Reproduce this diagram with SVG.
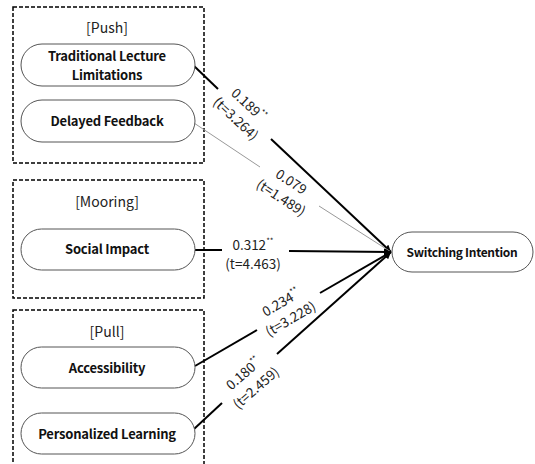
<svg xmlns="http://www.w3.org/2000/svg" width="535" height="464" viewBox="0 0 535 464">
<defs>
<style>
.grp{fill:none;stroke:#000;stroke-width:1.5;stroke-dasharray:4,2}
.pill{fill:#fff;stroke:#555;stroke-width:1}
.nt{font-family:"Noto Sans CJK KR","Noto Sans",sans-serif;font-size:13px;font-weight:bold;letter-spacing:-0.2px;fill:#111;text-anchor:middle}
.st{font-size:12px;letter-spacing:-0.3px}
.gt{font-family:"Noto Sans CJK KR","Noto Sans",sans-serif;font-size:14px;fill:#222;text-anchor:middle}
.lb{font-family:"Noto Sans CJK KR","Noto Sans",sans-serif;font-size:13.5px;fill:#222;text-anchor:middle}
.sup{font-size:8px}
.ln{fill:none;stroke:#000;stroke-width:2}
.lg{fill:none;stroke:#999;stroke-width:1}
</style>
<marker id="arr" viewBox="0 0 10 10" refX="10" refY="5" markerWidth="7" markerHeight="7" markerUnits="userSpaceOnUse" orient="auto">
<path d="M0,0 L10,5 L0,10 z" fill="#000"/>
</marker>
</defs>
<rect width="535" height="464" fill="#fff"/>

<g id="group-push">
<rect class="grp" x="13" y="7" width="191" height="156"/>
<text class="gt" x="107" y="33">[Push]</text>
</g>
<g id="group-mooring">
<rect class="grp" x="13" y="180" width="191" height="118"/>
<text class="gt" x="107" y="207">[Mooring]</text>
</g>
<g id="group-pull">
<rect class="grp" x="13" y="310" width="191" height="170"/>
<text class="gt" x="107" y="337">[Pull]</text>
</g>

<g id="connectors">
<polyline class="ln" points="193,65 218,89"/>
<polyline class="ln" points="271,139 391,252" marker-end="url(#arr)"/>
<polyline class="lg" points="194,123 260,167"/>
<polyline class="lg" points="319,206 391,252"/>
<polyline class="ln" points="195,250 222,250"/>
<polyline class="ln" points="289,251 391,252" marker-end="url(#arr)"/>
<polyline class="ln" points="195,366 257,330"/>
<polyline class="ln" points="320,293 391,252" marker-end="url(#arr)"/>
<polyline class="ln" points="194,429 222,403"/>
<polyline class="ln" points="277,354 391,252" marker-end="url(#arr)"/>
<g transform="translate(242,112) rotate(43)"><text class="lb" x="0" y="-5">0.189<tspan class="sup" dy="-6">**</tspan></text><text class="lb" x="0" y="14">(t=3.264)</text></g>
<g transform="translate(286,190) rotate(33)"><text class="lb" x="0" y="-5">0.079</text><text class="lb" x="0" y="14">(t=1.489)</text></g>
<g transform="translate(253,255)"><text class="lb" x="0" y="-5">0.312<tspan class="sup" dy="-6">**</tspan></text><text class="lb" x="0" y="14">(t=4.463)</text></g>
<g transform="translate(286,311) rotate(-30)"><text class="lb" x="0" y="-5">0.234<tspan class="sup" dy="-6">**</tspan></text><text class="lb" x="0" y="14">(t=3.228)</text></g>
<g transform="translate(250,381) rotate(-41)"><text class="lb" x="0" y="-5">0.180<tspan class="sup" dy="-6">**</tspan></text><text class="lb" x="0" y="14">(t=2.459)</text></g>
</g>

<g id="node-tll">
<rect class="pill" x="21" y="44" width="174" height="42" rx="21"/>
<text class="nt" x="107" y="61">Traditional Lecture</text>
<text class="nt" x="107" y="80">Limitations</text>
</g>
<g id="node-df">
<rect class="pill" x="21" y="100" width="174" height="42" rx="21"/>
<text class="nt" x="107" y="126">Delayed Feedback</text>
</g>
<g id="node-si">
<rect class="pill" x="21" y="229" width="174" height="41" rx="20.5"/>
<text class="nt" x="107" y="254">Social Impact</text>
</g>
<g id="node-acc">
<rect class="pill" x="21" y="347" width="174" height="41" rx="20.5"/>
<text class="nt" x="107" y="373">Accessibility</text>
</g>
<g id="node-pl">
<rect class="pill" x="21" y="413" width="174" height="41" rx="20.5"/>
<text class="nt" x="107" y="439">Personalized Learning</text>
</g>
<g id="node-switch">
<rect class="pill" x="392" y="232" width="141" height="40" rx="20"/>
<text class="nt st" x="462" y="256.5">Switching Intention</text>
</g>
</svg>
